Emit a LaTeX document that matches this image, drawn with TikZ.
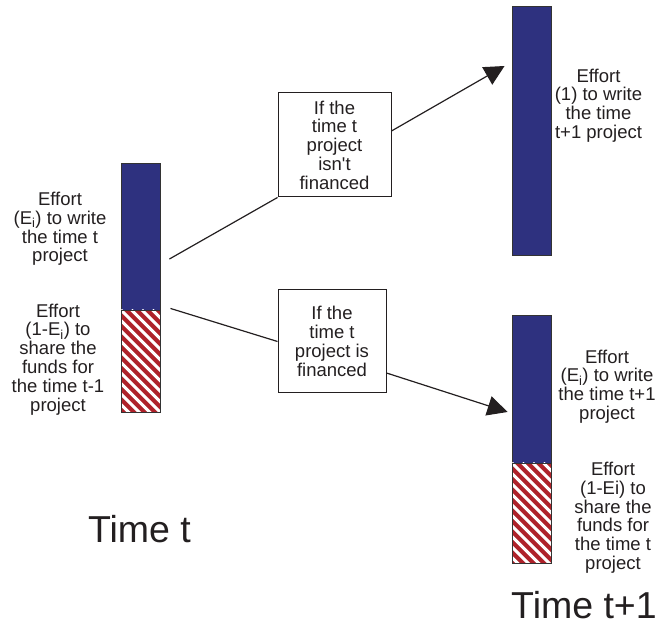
\documentclass[tikz,border=0pt]{standalone}
\usepackage{fontspec}
\setmainfont{Liberation Sans}
\usetikzlibrary{arrows.meta}
\definecolor{barblue}{RGB}{46,49,127}
\definecolor{barred}{RGB}{174,34,42}
\definecolor{ink}{RGB}{35,31,32}
\begin{document}
\begin{tikzpicture}[x=1pt,y=1pt,
  bluebar/.style={draw=black!80, line width=0.9pt, fill=barblue, minimum width=39pt, inner sep=0pt},
  hatchbar/.style={draw=black!80, line width=0.9pt, fill=barred, minimum width=39pt, inner sep=0pt,
    path picture={\foreach \k in {-14,...,6}{\draw[white, line width=3pt] ([xshift=\k*10.5pt]path picture bounding box.north west) -- ++(200pt,-200pt);}}},
  lbl/.style={align=center, inner sep=0pt, anchor=north, text=ink, font=\fontsize{18.5}{18.8}\selectfont},
  decision/.style={draw=ink, line width=1pt, align=center, inner sep=0pt, text=ink, font=\fontsize{18.5}{18.8}\selectfont},
  conn/.style={draw=ink, line width=1.2pt},
  arr/.style={conn, -{Triangle[length=20pt,width=20pt]}},
  big/.style={font=\fontsize{37.5}{40}\selectfont, inner sep=0pt, anchor=base, text=ink}
]
\useasboundingbox (0,0) rectangle (662,626);

% bars
\node[bluebar, minimum height=147pt] (lbblue) at (140.5,389.5) {};
\node[hatchbar, minimum height=102pt] (lbhatch) at (140.5,265) {};
\node[bluebar, minimum height=249pt] (ub) at (531.5,495.5) {};
\node[bluebar, minimum height=148pt] (rbblue) at (531.5,237) {};
\node[hatchbar, minimum height=100pt] (rbhatch) at (531.5,113) {};

% decision boxes
\node[decision, minimum width=113pt, minimum height=104pt] (box1) at (334.5,481) {If the\\time t\\project\\isn\textquotesingle t\\financed};
\node[decision, minimum width=108pt, minimum height=103pt] (box2) at (332,284.5) {If the\\time t\\project is\\financed};

% labels
\node[lbl] (t1) at (60,434) {Effort\\(E\textsubscript{i}) to write\\the time t\\project};
\node[lbl] (t2) at (58,322.5) {Effort\\(1-E\textsubscript{i}) to\\share the\\funds for\\the time t-1\\project};
\node[lbl] (t3) at (598.5,557.5) {Effort\\(1) to write\\the time\\t+1 project};
\node[lbl] (t4) at (607,276.5) {Effort\\(E\textsubscript{i}) to write\\the time t+1\\project};
\node[lbl] (t5) at (613,164) {Effort\\(1-Ei) to\\share the\\funds for\\the time t\\project};
\node[big] (timet) at (139.5,83) {Time t};
\node[big] (timet1) at (584,7) {Time t+1};

% connectors
\coordinate (s1) at ([xshift=9pt,yshift=-22.5pt]lbblue.east);
\coordinate (s2) at ([xshift=10pt,yshift=2pt]lbblue.south east);
\coordinate (e1) at ([xshift=-7pt,yshift=64.5pt]ub.west);
\coordinate (e2) at ([xshift=-4pt,yshift=-23pt]rbblue.west);
\draw[conn] (s1) -- (box1.south west);
\draw[arr] ([yshift=14pt]box1.east) -- (e1);
\draw[conn] (s2) -- (box2.west);
\draw[arr] ([yshift=-31.5pt]box2.east) -- (e2);
\end{tikzpicture}
\end{document}
